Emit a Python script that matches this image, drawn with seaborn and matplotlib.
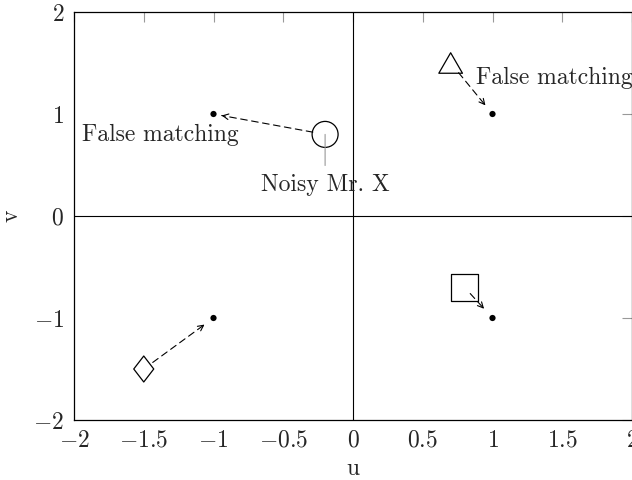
import matplotlib
matplotlib.use("Agg")
import matplotlib.pyplot as plt
import seaborn as sns
import numpy as np
import pandas as pd
from matplotlib.path import Path

# ---- data ----
dot_u = [-1, 1, -1, 1]
dot_v = [1, 1, -1, -1]

shape_names = ["circle", "triangle", "diamond", "square"]
shape_u = [-0.2, 0.7, -1.5, 0.8]
shape_v = [0.8, 1.5, -1.5, -0.7]
# index of the dot each shape points to
target_idx = [0, 1, 2, 3]

x_ticks = [-2, -1.5, -1, -0.5, 0, 0.5, 1, 1.5, 2]
x_tick_labels = ["$-2$", "$-1.5$", "$-1$", "$-0.5$", "$0$", "$0.5$", "$1$", "$1.5$", "$2$"]
y_ticks = [-2, -1, 0, 1, 2]
y_tick_labels = ["$-2$", "$-1$", "$0$", "$1$", "$2$"]

labels_text = ["False matching", "False matching", "Noisy Mr. X"]
labels_u = [-1.38, 0.88, -0.2]
labels_v = [0.79, 1.35, 0.30]

# ---- style ----
sns.set_style("white")
plt.rcParams.update({
    "font.family": "cmr10",
    "mathtext.fontset": "cm",
    "axes.formatter.use_mathtext": True,
    "axes.unicode_minus": True,
})

FS = 17
fig = plt.figure(figsize=(6.32, 4.8), dpi=100)
ax = fig.add_axes([74 / 632, 60 / 480, (632 - 74) / 632, (420 - 12) / 480])
ax.set_xlim(-2, 2)
ax.set_ylim(-2, 2)

ax.axhline(0, color="black", lw=0.8, zorder=1)
ax.axvline(0, color="black", lw=0.8, zorder=1)

# dots
dots = pd.DataFrame({"u": dot_u, "v": dot_v})
sns.scatterplot(data=dots, x="u", y="v", ax=ax, color="black", s=20,
                edgecolor="none", zorder=4, legend=False)

# shape markers
tri = Path([(0, 0.866), (-1, -0.866), (1, -0.866), (0, 0.866)], closed=True)
dia = Path([(0, 1), (0.77, 0), (0, -1), (-0.77, 0), (0, 1)], closed=True)
markers = {"circle": ("o", 350), "triangle": (tri, 290),
           "diamond": (dia, 350), "square": ("s", 380)}
shapes = pd.DataFrame({"name": shape_names, "u": shape_u, "v": shape_v})
for _, row in shapes.iterrows():
    m, s = markers[row["name"]]
    sns.scatterplot(x=[row["u"]], y=[row["v"]], ax=ax, marker=m, s=s,
                    facecolor="none", edgecolor="black", linewidth=0.9,
                    zorder=5, legend=False)

# arrows
fig.canvas.draw()
shrinkA = {"circle": 9, "triangle": 9, "diamond": 8, "square": 6}
shrinkB = {"circle": 6, "triangle": 8, "diamond": 8, "square": 9}
for i, name in enumerate(shape_names):
    start = (shape_u[i], shape_v[i])
    end = (dot_u[target_idx[i]], dot_v[target_idx[i]])
    a, b = shrinkA[name], shrinkB[name]
    ax.annotate("", xy=end, xytext=start,
                arrowprops=dict(arrowstyle="-", lw=0.8, color="black",
                                linestyle=(0, (6, 4)),
                                shrinkA=a, shrinkB=b), zorder=3)
    p0 = ax.transData.transform(start)
    p1 = ax.transData.transform(end)
    dist_pt = np.hypot(*(p1 - p0)) * 72 / fig.dpi
    ax.annotate("", xy=end, xytext=start,
                arrowprops=dict(arrowstyle="->,head_length=0.4,head_width=0.2",
                                lw=0.8, color="black",
                                shrinkA=dist_pt - b - 1.5, shrinkB=b), zorder=3)

# labels
ax.text(labels_u[0], labels_v[0], labels_text[0], fontsize=FS, ha="center", va="center")
ax.text(labels_u[1], labels_v[1], labels_text[1], fontsize=FS, ha="left", va="center")
ax.annotate(labels_text[2], xy=(shape_u[0], shape_v[0]), xytext=(labels_u[2], labels_v[2]),
            fontsize=FS, ha="center", va="center",
            arrowprops=dict(arrowstyle="-", color="0.6", lw=0.8, shrinkA=4, shrinkB=0),
            zorder=6)

# axes styling
ax.set_xticks(x_ticks)
ax.set_xticklabels(x_tick_labels)
ax.set_yticks(y_ticks)
ax.set_yticklabels(y_tick_labels)
ax.tick_params(direction="in", length=7, width=0.8, color="0.6",
               top=True, right=True, labelsize=FS, pad=7)
for sp in ax.spines.values():
    sp.set_color("black")
    sp.set_linewidth(0.9)
ax.set_xlabel("u", fontsize=FS, labelpad=4)
ax.set_ylabel("v", fontsize=FS, labelpad=8, rotation=90)

fig.savefig("out.png", dpi=100)
